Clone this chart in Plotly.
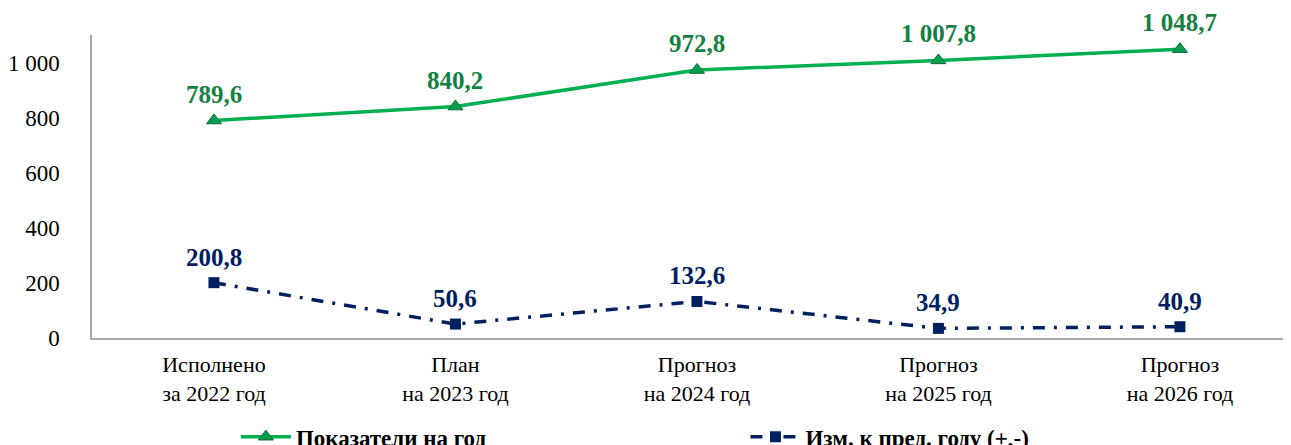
import plotly.graph_objects as go

categories = ["Исполнено<br>за 2022 год", "План<br>на 2023 год", "Прогноз<br>на 2024 год",
              "Прогноз<br>на 2025 год", "Прогноз<br>на 2026 год"]
indicators = [789.6, 840.2, 972.8, 1007.8, 1048.7]
changes = [200.8, 50.6, 132.6, 34.9, 40.9]
tick_values = [0, 200, 400, 600, 800, 1000]

name_ind = "Показатели на год"
name_chg = "Изм. к пред. году (+,-)"

def fmt(v):
    return f"{v:,.1f}".replace(",", " ").replace(".", ",")

def fmt_int(v):
    return f"{v:,d}".replace(",", " ")

GREEN_LINE = "#00B050"
GREEN_TEXT = "#138241"
NAVY = "#002060"
FONT = "Liberation Serif"

fig = go.Figure()
fig.add_trace(go.Scatter(
    x=categories, y=indicators, name="<b>" + name_ind + "</b>", mode="lines+markers",
    line=dict(color=GREEN_LINE, width=3.5), legend="legend",
    marker=dict(symbol="triangle-up", size=13, color="#00A050",
                line=dict(color="#0B6B33", width=1)),
))
fig.add_trace(go.Scatter(
    x=categories, y=changes, name="<b>" + name_chg + "</b>", mode="lines+markers",
    line=dict(color=NAVY, width=3.5, dash="12px,9px,3px,9px"), legend="legend2",
    marker=dict(symbol="square", size=11, color=NAVY),
))

for c, v in zip(categories, indicators):
    fig.add_annotation(x=c, y=v, text="<b>" + fmt(v) + "</b>", showarrow=False, yanchor="bottom",
                       yshift=11, font=dict(family=FONT, size=25, color=GREEN_TEXT))
for c, v in zip(categories, changes):
    fig.add_annotation(x=c, y=v, text="<b>" + fmt(v) + "</b>", showarrow=False, yanchor="bottom",
                       yshift=10, font=dict(family=FONT, size=25, color=NAVY))

leg_font = dict(family=FONT, size=23, color="black")
fig.update_layout(
    width=1283, height=437,
    margin=dict(l=84, r=0, t=27, b=107, autoexpand=False),
    paper_bgcolor="white", plot_bgcolor="white",
    showlegend=True,
    legend=dict(orientation="h", x=0.12, y=-0.255, xanchor="left", yanchor="top",
                font=leg_font, itemwidth=50, bgcolor="rgba(0,0,0,0)",
                tracegroupgap=0),
    legend2=dict(orientation="h", x=0.545, y=-0.255, xanchor="left", yanchor="top",
                 font=leg_font, itemwidth=50, bgcolor="rgba(0,0,0,0)",
                 tracegroupgap=0),
    xaxis=dict(range=[-0.505, 4.46], showline=True, linecolor="#A6A6A6", linewidth=1.5,
               showgrid=False, ticks="", ticklabelstandoff=6, automargin=False,
               tickfont=dict(family=FONT, size=22, color="black")),
    yaxis=dict(range=[0, 1100], tickvals=tick_values, ticktext=[fmt_int(t) for t in tick_values],
               showline=True, linecolor="#A6A6A6", linewidth=1.5, automargin=False,
               showgrid=False, zeroline=False, ticks="", ticklabelstandoff=26,
               tickfont=dict(family=FONT, size=23, color="black")),
)

fig.write_html("out.html")
